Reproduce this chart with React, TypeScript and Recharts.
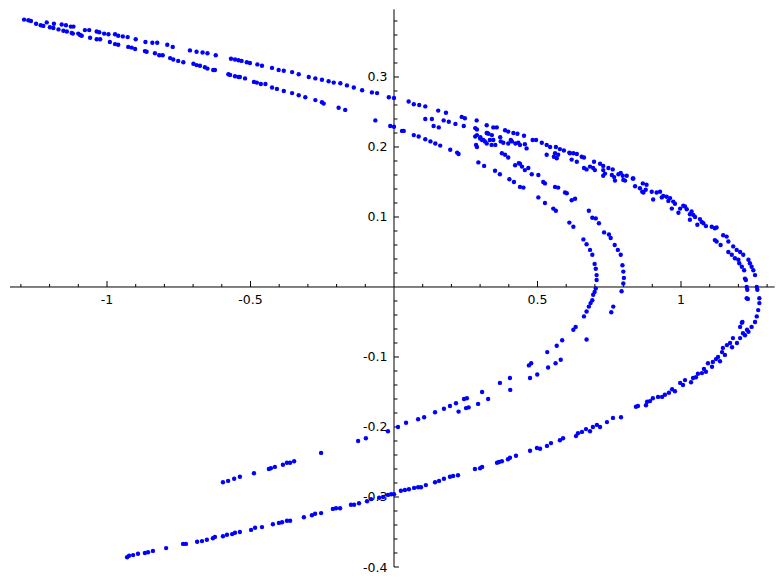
import React from 'react';
import { ScatterChart, Scatter, XAxis, YAxis, ReferenceLine, ReferenceDot } from 'recharts';

type Pt = [number, number];

// outer top band, left tip to where it meets the right-hand fold
const topBand: Pt[] = [
  [-1.289, 0.382], [-1.274, 0.381], [-1.265, 0.38], [-1.21, 0.378], [-1.185, 0.376], [-1.158, 0.375],
  [-1.143, 0.374], [-1.126, 0.372], [-1.117, 0.372], [-1.077, 0.367], [-1.062, 0.367], [-1.036, 0.365],
  [-1.027, 0.364], [-1.01, 0.362], [-0.995, 0.361], [-0.972, 0.361], [-0.961, 0.359], [-0.945, 0.358],
  [-0.928, 0.357], [-0.9, 0.354], [-0.866, 0.35], [-0.842, 0.349], [-0.825, 0.349], [-0.79, 0.346],
  [-0.771, 0.343], [-0.711, 0.338], [-0.688, 0.336], [-0.667, 0.335], [-0.65, 0.334], [-0.621, 0.331],
  [-0.568, 0.326], [-0.554, 0.325], [-0.542, 0.324], [-0.531, 0.323], [-0.513, 0.321], [-0.502, 0.32],
  [-0.476, 0.318], [-0.46, 0.316], [-0.425, 0.313], [-0.402, 0.31], [-0.384, 0.309], [-0.355, 0.307],
  [-0.332, 0.304], [-0.297, 0.3], [-0.274, 0.298], [-0.251, 0.296], [-0.228, 0.294], [-0.21, 0.292],
  [-0.187, 0.291], [-0.164, 0.288], [-0.14, 0.285], [-0.111, 0.281], [-0.077, 0.278], [-0.059, 0.277],
  [-0.018, 0.271], [0.0, 0.27], [0.051, 0.265], [0.069, 0.261], [0.088, 0.26], [0.109, 0.258],
  [0.154, 0.252], [0.181, 0.249], [0.236, 0.243], [0.247, 0.241], [0.288, 0.238], [0.323, 0.231],
  [0.346, 0.228], [0.358, 0.228], [0.387, 0.224], [0.398, 0.222], [0.416, 0.22], [0.43, 0.219],
  [0.453, 0.216], [0.483, 0.21], [0.495, 0.21], [0.515, 0.206], [0.532, 0.203], [0.544, 0.2],
  [0.564, 0.2], [0.578, 0.197], [0.592, 0.195], [0.611, 0.192], [0.625, 0.191], [0.637, 0.19],
  [0.654, 0.186], [0.662, 0.185], [0.697, 0.179], [0.718, 0.176], [0.729, 0.173], [0.747, 0.17],
  [0.762, 0.168], [0.79, 0.163], [0.811, 0.159], [0.832, 0.155],
];

// outer edge of the right-hand fold
const outerFold: Pt[] = [
  [0.799, 0.153], [0.834, 0.155], [0.84, 0.144], [0.857, 0.141], [0.867, 0.148], [0.88, 0.146],
  [0.898, 0.136], [0.915, 0.135], [0.927, 0.136], [0.938, 0.13], [0.95, 0.129], [0.962, 0.127],
  [0.973, 0.122], [0.979, 0.119], [0.997, 0.112], [1.008, 0.116], [1.014, 0.115], [1.02, 0.111],
  [1.037, 0.108], [1.043, 0.103], [1.049, 0.1], [1.066, 0.097], [1.072, 0.093], [1.078, 0.091],
  [1.087, 0.087], [1.107, 0.086], [1.118, 0.084], [1.124, 0.085], [1.147, 0.074], [1.159, 0.072],
  [1.165, 0.065], [1.182, 0.058], [1.194, 0.053], [1.206, 0.05], [1.217, 0.046], [1.235, 0.039],
  [1.24, 0.034], [1.246, 0.029], [1.252, 0.024], [1.258, 0.017], [1.264, 0.0], [1.266, -0.004],
  [1.273, -0.016], [1.273, -0.023], [1.269, -0.033], [1.264, -0.042], [1.258, -0.05], [1.246, -0.057],
  [1.235, -0.064], [1.223, -0.069],
];

// second band just under the top band, running into the fold
const secondBand: Pt[] = [
  [0.109, 0.24], [0.132, 0.24], [0.138, 0.23], [0.156, 0.228], [0.173, 0.238], [0.191, 0.236],
  [0.214, 0.233], [0.243, 0.23], [0.283, 0.227], [0.289, 0.225], [0.324, 0.22], [0.341, 0.217],
  [0.372, 0.208], [0.381, 0.206], [0.398, 0.205], [0.407, 0.21], [0.433, 0.206], [0.439, 0.203],
  [0.456, 0.204], [0.462, 0.198], [0.532, 0.189], [0.557, 0.186], [0.561, 0.191], [0.567, 0.184],
  [0.572, 0.189], [0.613, 0.191], [0.619, 0.182], [0.637, 0.179], [0.662, 0.17], [0.671, 0.168],
  [0.683, 0.172], [0.694, 0.17], [0.7, 0.167], [0.729, 0.167], [0.735, 0.162], [0.729, 0.159],
  [0.759, 0.16], [0.767, 0.157], [0.77, 0.152], [0.782, 0.161], [0.797, 0.159], [0.805, 0.152],
  [0.865, 0.136], [0.877, 0.139], [0.869, 0.135], [0.903, 0.125], [0.933, 0.128], [0.956, 0.123],
  [0.968, 0.112], [0.991, 0.106], [1.031, 0.104], [1.031, 0.096], [1.057, 0.089], [1.118, 0.067],
  [1.124, 0.065], [1.138, 0.06], [1.165, 0.05], [1.177, 0.046], [1.188, 0.041], [1.2, 0.039],
  [1.203, 0.034], [1.212, 0.029], [1.22, 0.024], [1.223, 0.012], [1.226, 0.01], [1.229, 0.0],
  [1.231, -0.004], [1.229, -0.016], [1.233, -0.017], [1.214, -0.05], [1.212, -0.051], [1.206, -0.057],
];

// long lower band back to the bottom-left tip
const bottomBand: Pt[] = [
  [1.23, -0.061], [1.216, -0.066], [1.206, -0.073], [1.195, -0.08], [1.181, -0.073], [1.178, -0.086],
  [1.171, -0.08], [1.16, -0.083], [1.153, -0.097], [1.146, -0.087], [1.143, -0.093], [1.136, -0.106],
  [1.129, -0.1], [1.122, -0.103], [1.111, -0.107], [1.108, -0.114], [1.094, -0.109], [1.087, -0.121],
  [1.08, -0.117], [1.073, -0.123], [1.059, -0.124], [1.052, -0.129], [1.042, -0.13], [1.035, -0.136],
  [1.014, -0.133], [1.007, -0.14], [0.997, -0.137], [0.979, -0.149], [0.969, -0.146], [0.958, -0.151],
  [0.944, -0.154], [0.934, -0.157], [0.92, -0.157], [0.902, -0.159], [0.892, -0.163], [0.882, -0.164],
  [0.878, -0.169], [0.85, -0.17], [0.843, -0.171], [0.791, -0.186], [0.763, -0.187], [0.742, -0.193],
  [0.718, -0.2], [0.707, -0.197], [0.693, -0.2], [0.683, -0.206], [0.669, -0.203], [0.655, -0.207],
  [0.641, -0.209], [0.634, -0.213], [0.589, -0.216], [0.578, -0.219], [0.547, -0.223], [0.533, -0.227],
  [0.509, -0.231], [0.498, -0.23], [0.474, -0.234], [0.425, -0.241], [0.404, -0.244], [0.397, -0.246],
  [0.376, -0.249], [0.366, -0.25], [0.359, -0.251], [0.307, -0.257], [0.3, -0.259], [0.282, -0.26],
  [0.223, -0.269], [0.206, -0.27], [0.195, -0.271], [0.174, -0.274], [0.157, -0.277], [0.143, -0.279],
  [0.111, -0.283], [0.094, -0.286], [0.084, -0.286], [0.07, -0.287], [0.052, -0.289], [0.038, -0.29],
  [0.024, -0.291], [0.0, -0.296], [-0.01, -0.296], [-0.021, -0.297], [-0.038, -0.3], [-0.052, -0.301],
  [-0.08, -0.303], [-0.094, -0.306], [-0.122, -0.309], [-0.139, -0.311], [-0.15, -0.311], [-0.188, -0.316],
  [-0.202, -0.316], [-0.213, -0.317], [-0.254, -0.323], [-0.275, -0.324], [-0.286, -0.326], [-0.314, -0.329],
  [-0.362, -0.334], [-0.373, -0.334], [-0.39, -0.336], [-0.401, -0.337], [-0.422, -0.339], [-0.46, -0.343],
  [-0.484, -0.344], [-0.498, -0.347], [-0.537, -0.35], [-0.554, -0.351], [-0.564, -0.353], [-0.582, -0.354],
  [-0.596, -0.356], [-0.624, -0.357], [-0.631, -0.359], [-0.652, -0.361], [-0.669, -0.363], [-0.686, -0.364],
  [-0.725, -0.367], [-0.735, -0.367], [-0.794, -0.373], [-0.84, -0.377], [-0.857, -0.379], [-0.868, -0.38],
  [-0.892, -0.381], [-0.909, -0.383], [-0.923, -0.384], [-0.93, -0.386],
];

// band under the top band, turning into the inner arc (tip near x = 0.71)
const innerArc: Pt[] = [
  [-1.247, 0.376], [-1.231, 0.374], [-1.222, 0.373], [-1.199, 0.371], [-1.187, 0.37], [-1.169, 0.368],
  [-1.152, 0.366], [-1.14, 0.365], [-1.123, 0.363], [-1.119, 0.362], [-1.1, 0.362], [-1.094, 0.36],
  [-1.088, 0.359], [-1.059, 0.356], [-1.036, 0.354], [-1.024, 0.354], [-0.99, 0.35], [-0.972, 0.347],
  [-0.961, 0.346], [-0.926, 0.343], [-0.914, 0.342], [-0.902, 0.34], [-0.868, 0.337], [-0.862, 0.336],
  [-0.833, 0.334], [-0.818, 0.331], [-0.806, 0.331], [-0.78, 0.327], [-0.769, 0.325], [-0.752, 0.323],
  [-0.734, 0.321], [-0.699, 0.319], [-0.688, 0.317], [-0.676, 0.316], [-0.659, 0.314], [-0.65, 0.312],
  [-0.63, 0.31], [-0.624, 0.31], [-0.577, 0.304], [-0.571, 0.303], [-0.554, 0.301], [-0.542, 0.3],
  [-0.537, 0.3], [-0.519, 0.298], [-0.488, 0.293], [-0.478, 0.292], [-0.464, 0.29], [-0.448, 0.29],
  [-0.425, 0.285], [-0.408, 0.283], [-0.384, 0.28], [-0.355, 0.277], [-0.332, 0.274], [-0.309, 0.271],
  [-0.274, 0.267], [-0.251, 0.264], [-0.245, 0.262], [-0.193, 0.256], [-0.17, 0.253], [-0.065, 0.238],
  [-0.013, 0.23], [0.0, 0.229], [0.028, 0.223], [0.034, 0.223], [0.069, 0.217], [0.086, 0.215],
  [0.109, 0.211], [0.127, 0.208], [0.144, 0.205], [0.161, 0.202], [0.196, 0.196], [0.22, 0.192],
  [0.225, 0.19], [0.294, 0.178], [0.314, 0.173], [0.352, 0.166], [0.369, 0.161], [0.402, 0.154],
  [0.418, 0.15], [0.439, 0.143], [0.451, 0.142], [0.503, 0.128], [0.526, 0.12], [0.555, 0.112],
  [0.564, 0.109], [0.611, 0.092], [0.625, 0.086], [0.66, 0.068], [0.671, 0.061], [0.683, 0.053],
  [0.691, 0.046], [0.699, 0.033], [0.703, 0.026], [0.706, 0.017], [0.706, 0.01], [0.703, -0.002],
  [0.699, -0.007], [0.694, -0.011], [0.691, -0.019], [0.685, -0.023], [0.679, -0.028], [0.671, -0.035],
  [0.662, -0.042], [0.633, -0.057], [0.625, -0.061], [0.586, -0.076], [0.567, -0.084], [0.534, -0.093],
  [0.478, -0.109], [0.47, -0.112], [0.404, -0.13], [0.369, -0.137], [0.307, -0.15], [0.254, -0.159],
  [0.244, -0.16], [0.216, -0.166], [0.195, -0.17], [0.174, -0.174], [0.143, -0.179], [0.105, -0.186],
  [0.084, -0.189], [0.042, -0.194], [0.014, -0.2], [-0.021, -0.206], [-0.098, -0.216], [-0.125, -0.22],
  [-0.254, -0.237], [-0.348, -0.249], [-0.362, -0.251], [-0.373, -0.251], [-0.387, -0.254], [-0.415, -0.257],
  [-0.429, -0.259], [-0.436, -0.26], [-0.488, -0.266], [-0.537, -0.271], [-0.557, -0.274], [-0.578, -0.277],
  [-0.596, -0.279],
];

// small loop near (0.3, 0.21) and the middle arc (tip near x = 0.8)
const loopCluster: Pt[] = [
  [0.283, 0.215], [0.289, 0.217], [0.3, 0.212], [0.301, 0.214], [0.307, 0.21], [0.311, 0.21],
  [0.317, 0.208], [0.323, 0.205], [0.323, 0.22], [0.329, 0.219], [0.334, 0.21], [0.34, 0.203],
  [0.346, 0.21], [0.353, 0.203], [0.286, 0.203], [0.289, 0.2], [0.37, 0.214], [0.411, 0.208],
  [0.423, 0.205],
];

const middleArc: Pt[] = [
  [0.376, 0.191], [0.387, 0.189], [0.398, 0.185], [0.422, 0.174], [0.435, 0.177], [0.439, 0.176],
  [0.446, 0.172], [0.456, 0.167], [0.468, 0.17], [0.48, 0.161], [0.503, 0.16], [0.52, 0.15],
  [0.526, 0.148], [0.561, 0.143], [0.572, 0.142], [0.596, 0.135], [0.602, 0.134], [0.619, 0.124],
  [0.631, 0.126], [0.679, 0.109], [0.691, 0.099], [0.703, 0.098], [0.714, 0.091], [0.732, 0.078],
  [0.749, 0.075], [0.755, 0.07], [0.769, 0.06], [0.78, 0.053], [0.79, 0.046], [0.796, 0.031],
  [0.799, 0.022], [0.801, 0.013], [0.799, 0.005], [0.793, -0.006], [0.764, -0.028], [0.757, -0.036],
  [0.671, -0.075], [0.581, -0.104], [0.563, -0.109], [0.537, -0.115], [0.499, -0.125], [0.474, -0.13],
  [0.405, -0.147], [0.328, -0.16], [0.293, -0.167], [0.26, -0.172], [0.251, -0.173], [0.225, -0.178],
];

const xTicks = [
  -1.3, -1.2, -1.1, -1, -0.9, -0.8, -0.7, -0.6, -0.5, -0.4, -0.3, -0.2, -0.1,
  0.1, 0.2, 0.3, 0.4, 0.5, 0.6, 0.7, 0.8, 0.9, 1, 1.1, 1.2, 1.3,
];
const xLabels = [-1, -0.5, 0.5, 1];
const yTicks = [
  -0.4, -0.38, -0.36, -0.34, -0.32, -0.3, -0.28, -0.26, -0.24, -0.22, -0.2, -0.18, -0.16, -0.14,
  -0.12, -0.1, -0.08, -0.06, -0.04, -0.02, 0.02, 0.04, 0.06, 0.08, 0.1, 0.12, 0.14, 0.16, 0.18,
  0.2, 0.22, 0.24, 0.26, 0.28, 0.3, 0.32, 0.34, 0.36, 0.38,
];
const yLabels = [-0.4, -0.3, -0.2, -0.1, 0.1, 0.2, 0.3];

const groups = [topBand, outerFold, secondBand, bottomBand, innerArc, loopCluster, middleArc];
const toRows = (pts: Pt[]) => pts.map(([x, y]) => ({ x, y }));

const BLUE = '#0000ff';
const FONT = '"DejaVu Sans", sans-serif';
const FONT_SIZE = 12.5;

const Dot = (p: any) => <circle cx={p.cx} cy={p.cy} r={2.2} fill={BLUE} />;

const xTickShape = (v: number) => (p: any) => {
  const major = xLabels.includes(v);
  return (
    <g>
      <line x1={p.cx} y1={p.cy} x2={p.cx} y2={p.cy - (major ? 6 : 3)} stroke="#000" strokeWidth={1} />
      {major && (
        <text x={p.cx} y={p.cy + 17.3} textAnchor="middle" fontFamily={FONT} fontSize={FONT_SIZE} fill="#000">
          {String(v)}
        </text>
      )}
    </g>
  );
};

const yTickShape = (v: number) => (p: any) => {
  const major = yLabels.includes(v);
  return (
    <g>
      <line x1={p.cx} y1={p.cy} x2={p.cx + (major ? 5 : 3.5)} y2={p.cy} stroke="#000" strokeWidth={1} />
      {major && (
        <text x={p.cx - 6.5} y={p.cy + 4.5} textAnchor="end" fontFamily={FONT} fontSize={FONT_SIZE} fill="#000">
          {String(v)}
        </text>
      )}
    </g>
  );
};

export default function App() {
  return (
    <div style={{ position: 'absolute', left: 0, top: 0, width: 784, height: 584, background: '#fff' }}>
      <ScatterChart width={784} height={584} margin={{ top: 9.3, right: 9.3, bottom: 17, left: 10 }}>
        <XAxis type="number" dataKey="x" domain={[-1.338, 1.3265]} allowDataOverflow hide />
        <YAxis type="number" dataKey="y" domain={[-0.4, 0.3967]} allowDataOverflow hide />
        <ReferenceLine y={0} stroke="#000" strokeWidth={1} />
        <ReferenceLine x={0} stroke="#000" strokeWidth={1} />
        {xTicks.map((v) => (
          <ReferenceDot key={`xt${v}`} x={v} y={0} r={0} ifOverflow="visible" shape={xTickShape(v)} />
        ))}
        {yTicks.map((v) => (
          <ReferenceDot key={`yt${v}`} x={0} y={v} r={0} ifOverflow="visible" shape={yTickShape(v)} />
        ))}
        {groups.map((g, i) => (
          <Scatter key={i} data={toRows(g)} shape={Dot} isAnimationActive={false} />
        ))}
      </ScatterChart>
    </div>
  );
}
